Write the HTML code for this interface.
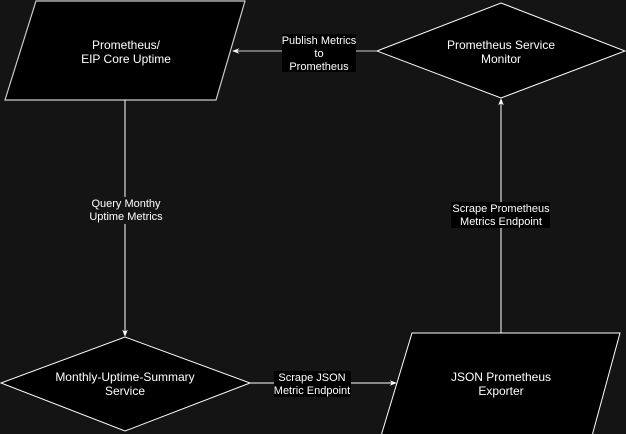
<!DOCTYPE html>
<html><head><style>
body{margin:0;background:#141414;}
svg{display:block}
text{font-family:"Liberation Sans",sans-serif;font-size:12px;fill:#fff;text-anchor:middle}
.l{font-size:11px}
</style></head><body>
<svg width="626" height="434" viewBox="0 0 626 434">
<defs><marker id="a" viewBox="0 0 10 10" refX="9" refY="5" markerWidth="7" markerHeight="7" orient="auto"><path d="M0,1 L10,5 L0,9 L3,5Z" fill="#fff"/></marker></defs>
<polygon points="36,1 245,1 216,100 5,100" fill="#000" stroke="#ccc" stroke-width="1.2"/>
<polygon points="377,51 501,3 625,51 501,98" fill="#000" stroke="#fff" stroke-width="1"/>
<polygon points="1,383 125,337 250,383 125,431" fill="#000" stroke="#fff" stroke-width="1"/>
<polygon points="412,333 620,333 592,436 381,436" fill="#000" stroke="#fff" stroke-width="1"/>
<line x1="377" y1="51" x2="233" y2="51" stroke="#ccc" marker-end="url(#a)"/>
<line x1="125" y1="100" x2="125" y2="336" stroke="#fff" marker-end="url(#a)"/>
<line x1="250" y1="383" x2="396" y2="383" stroke="#fff" marker-end="url(#a)"/>
<line x1="501" y1="333" x2="501" y2="99" stroke="#fff" marker-end="url(#a)"/>
<rect x="282" y="34" width="74" height="38" fill="#000"/>
<text class="l" x="319" y="44">Publish Metrics</text>
<text class="l" x="319" y="57">to</text>
<text class="l" x="319" y="70">Prometheus</text>
<rect x="88" y="197" width="77" height="27" fill="#141414"/>
<text class="l" x="126" y="207">Query Monthy</text>
<text class="l" x="126" y="220">Uptime Metrics</text>
<rect x="451" y="202" width="99" height="26" fill="#000"/>
<text class="l" x="501" y="212">Scrape Prometheus</text>
<text class="l" x="501" y="225">Metrics Endpoint</text>
<rect x="274" y="371" width="77" height="26" fill="#000"/>
<text class="l" x="312" y="381">Scrape JSON</text>
<text class="l" x="312" y="394">Metric Endpoint</text>
<text x="126" y="49">Prometheus/</text>
<text x="126" y="63">EIP Core Uptime</text>
<text x="501" y="49">Prometheus Service</text>
<text x="501" y="63">Monitor</text>
<text x="125" y="381">Monthly-Uptime-Summary</text>
<text x="125" y="395">Service</text>
<text x="501" y="381">JSON Prometheus</text>
<text x="501" y="395">Exporter</text>
</svg>
</body></html>
